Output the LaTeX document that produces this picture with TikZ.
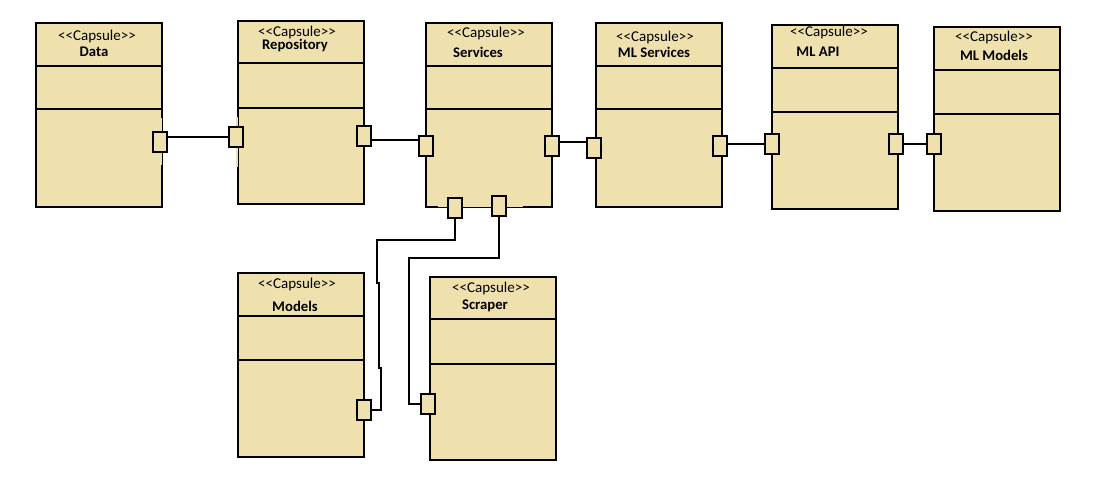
\documentclass[tikz,border=0pt]{standalone}
\usepackage{fontspec}
\setmainfont{Carlito}
\definecolor{capfill}{HTML}{EEE1AE}
\tikzset{
 capsule/.style={draw, fill=capfill, line width=2pt, minimum width=126pt, anchor=north west, inner sep=0pt},
 port/.style={draw, fill=capfill, line width=2pt, minimum width=14pt, minimum height=20pt, inner sep=0pt},
 conn/.style={line width=2pt},
 sepline/.style={line width=2pt},
 stereo/.style={font=\fontsize{15}{15}\selectfont, inner sep=0pt},
 cname/.style={font=\bfseries\fontsize{14.7}{14.7}\selectfont, inner sep=0pt},
}
\begin{document}
\begin{tikzpicture}[x=1pt,y=-1pt]
\useasboundingbox (0,0) rectangle (1100,478);
% capsules
\node[capsule, minimum height=184pt] (data) at (35,22) {};
\node[capsule, minimum height=183pt] (repo) at (237,20) {};
\node[capsule, minimum height=184pt] (serv) at (425,22) {};
\node[capsule, minimum height=184pt] (mls) at (595,22) {};
\node[capsule, minimum height=184pt] (api) at (771,24) {};
\node[capsule, minimum height=184pt] (mlm) at (933,26) {};
\node[capsule, minimum height=184pt] (models) at (237,272) {};
\node[capsule, minimum height=183pt] (scraper) at (429,276) {};
% compartments
\foreach \b/\ya/\yb in {data/66/109, repo/63/108, serv/66/109, mls/66/109, api/68/112, mlm/70/114, models/316/360, scraper/319/364}{
  \draw[sepline] (\b.west |- 0,\ya) -- (\b.east |- 0,\ya);
  \draw[sepline] (\b.west |- 0,\yb) -- (\b.east |- 0,\yb);
}
% gaps in borders
\fill[capfill] (159.8,118) rectangle (162.3,165);
\fill[capfill] (235.7,117) rectangle (238.3,167);
\fill[capfill] (438,204.8) rectangle (523,207.3);
% titles
\node[stereo] (dataS) at (97,37) {{<}{<}Capsule{>}{>}};
\node[cname] (dataN) at (94,52) {Data};
\node[stereo] (repoS) at (297,33) {{<}{<}Capsule{>}{>}};
\node[cname] (repoN) at (295,46) {Repository};
\node[stereo] (servS) at (486,34) {{<}{<}Capsule{>}{>}};
\node[cname] (servN) at (478,52) {Services};
\node[stereo] (mlsS) at (655,38) {{<}{<}Capsule{>}{>}};
\node[cname] (mlsN) at (654,52) {ML Services};
\node[stereo] (apiS) at (829,33) {{<}{<}Capsule{>}{>}};
\node[cname] (apiN) at (818,52) {ML API};
\node[stereo] (mlmS) at (994,38) {{<}{<}Capsule{>}{>}};
\node[cname] (mlmN) at (994,55) {ML Models};
\node[stereo] (modelsS) at (297,285) {{<}{<}Capsule{>}{>}};
\node[cname] (modelsN) at (295,306) {Models};
\node[stereo] (scraperS) at (491,289) {{<}{<}Capsule{>}{>}};
\node[cname] (scraperN) at (485,306) {Scraper};
% ports
\node[port] (dataR) at (160,142) {};
\node[port] (repoL) at (236,137.5) {};
\node[port] (repoR) at (364,136) {};
\node[port] (servL) at (425.5,146) {};
\node[port] (servR) at (552,146) {};
\node[port] (mlsL) at (594,148) {};
\node[port] (mlsR) at (720,146) {};
\node[port] (apiL) at (772,144) {};
\node[port] (apiR) at (896,144) {};
\node[port] (mlmL) at (934,144) {};
\node[port] (modR) at (364,410) {};
\node[port] (scrL) at (428,403.5) {};
\node[port] (sb1) at (454.5,208) {};
\node[port] (sb2) at (498.5,206.5) {};
% connectors
\draw[conn] (repoL.west) -- (repoL.west -| dataR.east);
\draw[conn] ([yshift=-4pt]repoR.east) -- ([yshift=-4pt]repoR.east -| servL.west);
\draw[conn] ([yshift=4pt]servR.east) -- ([yshift=4pt]servR.east -| mlsL.west);
\draw[conn] (apiL.west) -- (apiL.west -| mlsR.east);
\draw[conn] (apiR.east) -- (mlmL.west);
\draw[conn] (sb1.south) |- (377,240) -- (377,283) -- (379,283) -- (379,368) -- (381,368) |- (modR.east);
\draw[conn] (sb2.south) |- (409,258) |- (scrL.west);
\end{tikzpicture}
\end{document}
